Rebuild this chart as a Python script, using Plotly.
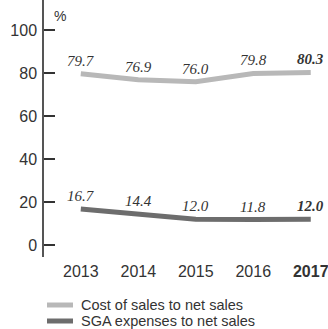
import plotly.graph_objects as go

years = [2013, 2014, 2015, 2016, 2017]
year_labels = ["2013", "2014", "2015", "2016", "<b>2017</b>"]
cost_ratio = [79.7, 76.9, 76.0, 79.8, 80.3]
sga_ratio = [16.7, 14.4, 12.0, 11.8, 12.0]
y_ticks = [0, 20, 40, 60, 80, 100]
series_names = ["Cost of sales to net sales", "SGA expenses to net sales"]
series_colors = ["#b8b8b8", "#6d6d6d"]

fig = go.Figure()
for vals, name, col in [(cost_ratio, series_names[0], series_colors[0]),
                        (sga_ratio, series_names[1], series_colors[1])]:
    fig.add_trace(go.Scatter(
        x=years, y=vals, name=name, mode="lines",
        line=dict(color=col, width=5),
        showlegend=False, cliponaxis=False,
    ))
    for i, (x, v) in enumerate(zip(years, vals)):
        t = f"{v:.1f}"
        if i == len(vals) - 1:
            t = f"<b>{t}</b>"
        fig.add_annotation(x=x, y=v, text=t, showarrow=False, yshift=13,
                           yanchor="middle", xanchor="center",
                           font=dict(family="Liberation Serif", size=15,
                                     color="#333333", style="italic"))

fig.update_layout(
    width=328, height=329,
    margin=dict(l=44, r=0, t=0, b=72),
    paper_bgcolor="white", plot_bgcolor="white",
    font=dict(family="Liberation Sans", size=16, color="#333333"),
    xaxis=dict(range=[2012.36, 2017.3], tickvals=years, ticktext=year_labels,
               showgrid=False, zeroline=False, showline=False, ticks="",
               ticklabelstandoff=3, ticklabeloverflow="allow", fixedrange=True),
    yaxis=dict(range=[-5.6, 114], tickvals=y_ticks, showgrid=False, zeroline=False,
               showline=True, linecolor="#555555", linewidth=1.5,
               ticks="inside", ticklen=11, tickcolor="#333333", tickwidth=1.5,
               ticklabelstandoff=2, fixedrange=True),
)

fig.add_annotation(x=0, y=1, xref="paper", yref="paper", xshift=8, yshift=-6,
                   text="%", showarrow=False, xanchor="left", yanchor="top",
                   font=dict(size=14, color="#333333"))

legend_y = [305, 321]
for i, (name, col) in enumerate(zip(series_names, series_colors)):
    yy = 1 - (legend_y[i]) / 257.0
    fig.add_shape(type="line", xref="paper", yref="paper",
                  x0=(47 - 44) / 284.0, x1=(73 - 44) / 284.0, y0=yy, y1=yy,
                  line=dict(color=col, width=5))
    fig.add_annotation(x=(79 - 44) / 284.0, y=yy, xref="paper", yref="paper",
                       text=name, showarrow=False, xanchor="left", yanchor="middle",
                       font=dict(size=14.5, color="#333333"))

fig.write_html("out.html")
